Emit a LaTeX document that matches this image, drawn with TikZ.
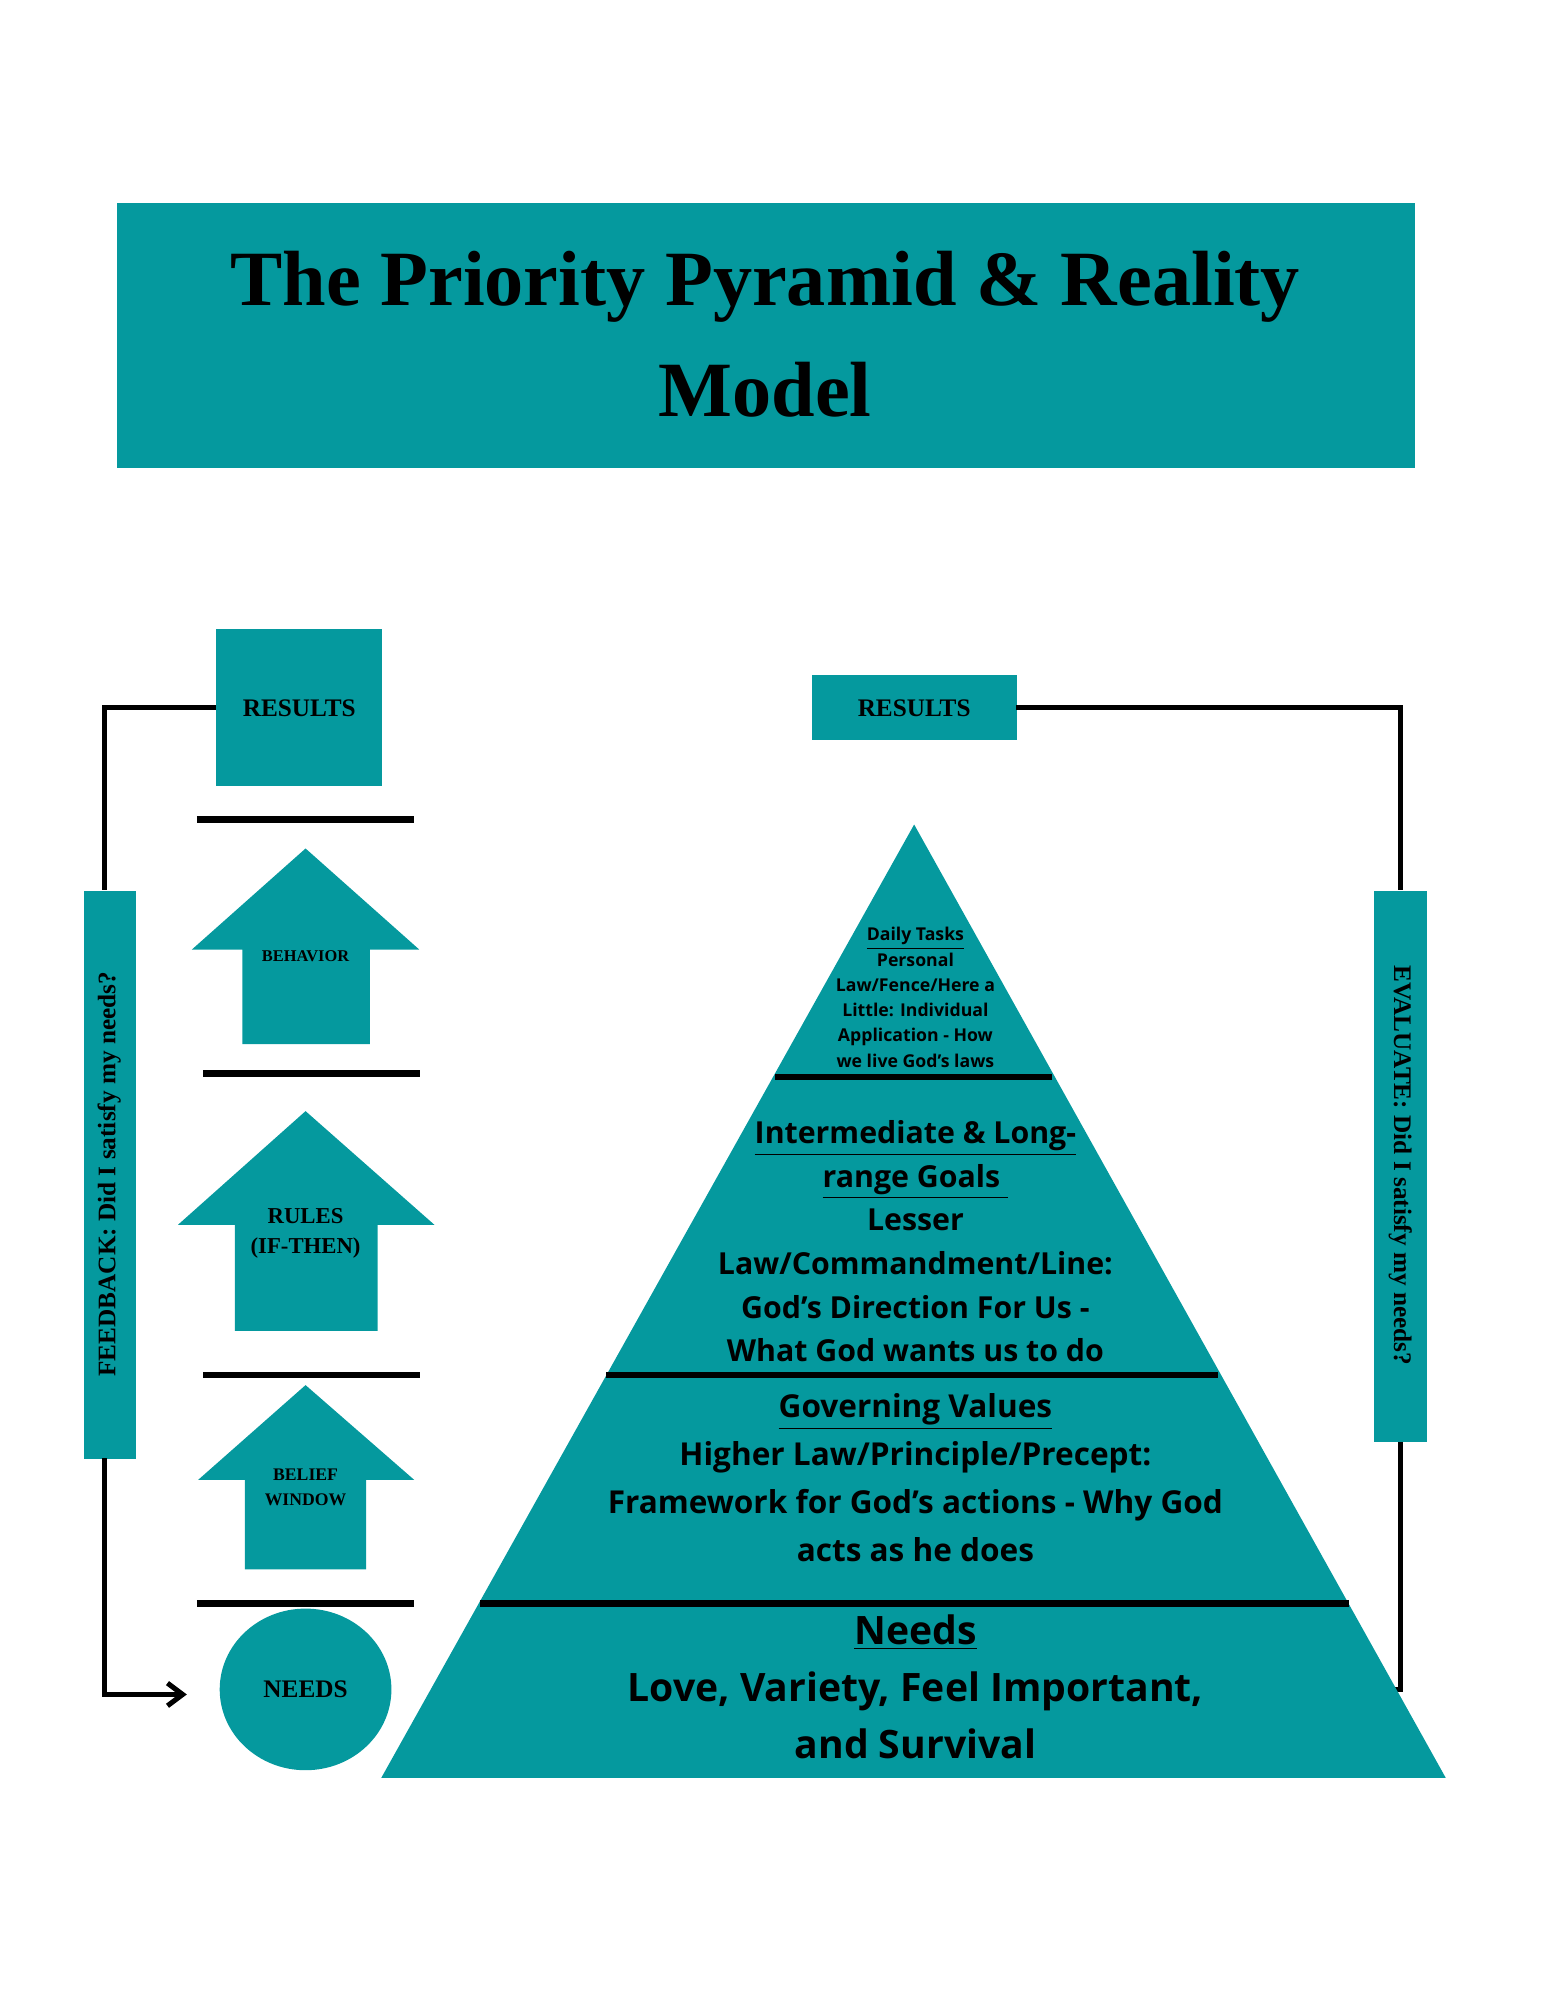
\documentclass[tikz,border=0pt]{standalone}
\usepackage{fontspec}
\setmainfont{Liberation Serif}
\newfontfamily\pyr{Open Sans}
\usetikzlibrary{arrows.meta,shapes.geometric}
\definecolor{teal1}{HTML}{05999E}
\begin{document}
\begin{tikzpicture}[x=0.5pt,y=-0.5pt,
  fillbox/.style={fill=teal1,draw=none},
  bar/.style={line width=2.6pt,black},
  loop/.style={line width=2pt,black},
  ser/.style={font=\fontsize{10}{12}\selectfont\bfseries,align=center},
  ptext/.style={font=\pyr\bfseries,align=center,text=black}]
\useasboundingbox (0,0) rectangle (1224,1584);
% title
\node[fillbox,minimum width=514pt,minimum height=105pt,anchor=north west,inner sep=0] (title) at (92,160) {};
\node[font=\fontsize{31}{44}\selectfont\bfseries,align=center] (tt) at (606,265) {The Priority Pyramid \& Reality\\Model};
% left column
\node[fillbox,minimum width=65.5pt,minimum height=62pt,inner sep=0,anchor=north west] (lres) at (171,498) {};
\node[ser] at (237,561) {RESULTS};
\draw[bar] (156,649) -- (328,649);
\draw[bar] (161,850) -- (333,850);
\draw[bar] (161,1089) -- (333,1089);
\draw[bar] (156,1270) -- (328,1270);
\fill[teal1] (242,672) -- (332,752) -- (293,752) -- (293,827) -- (192,827) -- (192,752) -- (152,752) -- cycle;
\node[ser,font=\fontsize{6.5}{8}\selectfont\bfseries] (beh) at (242,757) {BEHAVIOR};
\fill[teal1] (242,880) -- (344,970) -- (299,970) -- (299,1054) -- (186,1054) -- (186,970) -- (141,970) -- cycle;
\node[ser,font=\fontsize{9}{12}\selectfont\bfseries] (rul) at (242,977) {RULES\\(IF-THEN)};
\fill[teal1] (242,1097) -- (328,1172) -- (290,1172) -- (290,1243) -- (194,1243) -- (194,1172) -- (157,1172) -- cycle;
\node[ser,font=\fontsize{7}{10}\selectfont\bfseries] (bel) at (242,1178) {BELIEF\\WINDOW};
\node[fill=teal1,ellipse,minimum width=68pt,minimum height=64pt,inner sep=0,draw=none] (needs) at (242,1338) {};
\node[ser] at (242,1338) {NEEDS};
% feedback
\node[fillbox,minimum width=20.5pt,minimum height=225pt,inner sep=0,anchor=north west] (fb) at (66,705) {};
\node[ser,rotate=90] at (86.5,930) {FEEDBACK: Did I satisfy my needs?};
\coordinate (fa) at (148,1342);
\draw[loop] (171,560) -- (83,560) -- (83,705);
\draw[loop,-{Straight Barb[length=6pt,width=9pt]}] (83,1155) -- (83,1342) -- (fa);
% right
\node[fillbox,minimum width=81pt,minimum height=26pt,inner sep=0,anchor=north west] (rres) at (643,534) {};
\node[ser] at (724,561) {RESULTS};
\node[fillbox,minimum width=21pt,minimum height=218.5pt,inner sep=0,anchor=north west] (ev) at (1088,705) {};
\node[ser,rotate=-90] at (1109,923) {EVALUATE: Did I satisfy my needs?};
\coordinate (ea) at (1005,1338);
\draw[loop] (805,560) -- (1109,560) -- (1109,705);
\draw[loop,-{Straight Barb[length=6pt,width=9pt]}] (1109,1142) -- (1109,1338) -- (ea);
% pyramid
\fill[teal1] (724,653) -- (1145,1408) -- (302,1408) -- cycle;
\draw[bar] (614,853) -- (833,853);
\draw[bar] (480,1089) -- (965,1089);
\draw[bar] (380,1270) -- (1068,1270);
\node[ptext,font=\pyr\bfseries\fontsize{7}{10}\selectfont] (t1) at (725,790) {\underline{Daily Tasks}\\Personal\\Law/Fence/Here a\\Little: Individual\\Application - How\\we live God’s laws};
\node[ptext,font=\pyr\bfseries\fontsize{12}{17.3}\selectfont] (t2) at (725,983) {\underline{Intermediate \& Long-}\\\underline{range Goals\ }\\Lesser\\Law/Commandment/Line:\\God’s Direction For Us -\\What God wants us to do};
\node[ptext,font=\pyr\bfseries\fontsize{12.5}{19}\selectfont] (t3) at (725,1170) {\underline{Governing Values}\\Higher Law/Principle/Precept:\\Framework for God’s actions - Why God\\acts as he does};
\node[ptext,font=\pyr\bfseries\fontsize{15.5}{22.5}\selectfont] (t4) at (725,1336) {\underline{Needs}\\Love, Variety, Feel Important,\\and Survival};
\end{tikzpicture}
\end{document}
